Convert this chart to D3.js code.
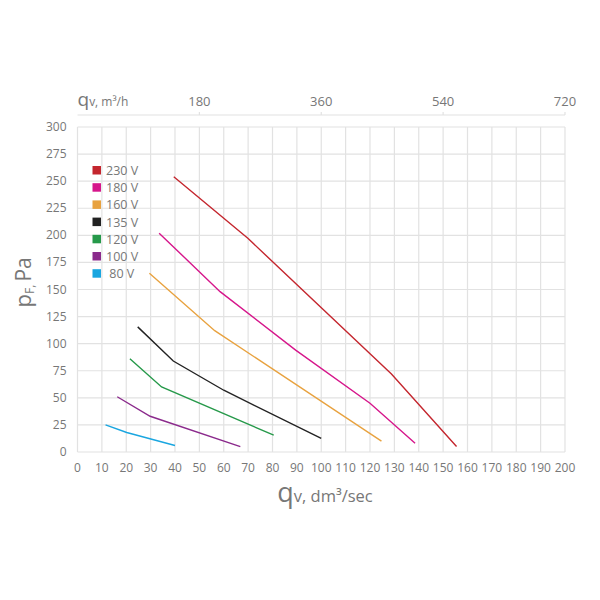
<!DOCTYPE html>
<html>
<head>
<meta charset="utf-8">
<script src="https://cdn.jsdelivr.net/npm/d3@7"></script>
<style>
body { margin: 0; background: #fff; }
text { font-family: "Open Sans", sans-serif; fill: #777; }
</style>
</head>
<body>
<div id="chart-area"></div>
<script>
// voltage series, flow in dm3/sec and pressure in Pa
var voltages = ["230 V", "180 V", "160 V", "135 V", "120 V", "100 V", " 80 V"];
var colors = ["#c4262e", "#d6168b", "#e8a23f", "#222222", "#26994a", "#8b2a8c", "#1aa6e0"];

var q230 = [39.5, 70, 128.8, 155.5];
var p230 = [254, 197, 72, 5];
var q180 = [33.5, 58.5, 89.5, 120, 138.5];
var p180 = [202, 148, 94, 45, 8];
var q160 = [29.5, 56.3, 124.7];
var p160 = [165, 112, 10];
var q135 = [24.7, 39.3, 60, 100];
var p135 = [115.5, 84, 57, 12.5];
var q120 = [21.5, 34.5, 80.5];
var p120 = [86, 60, 15.5];
var q100 = [16.3, 29.8, 66.8];
var p100 = [51, 33, 5];
var q80 = [11.5, 20.2, 40];
var p80 = [25, 18, 6];

var xTicks = d3.range(0, 201, 10);
var yTicks = d3.range(0, 301, 25);
var topTicks = [180, 360, 540, 720];

var series = [
	{q: q230, p: p230}, {q: q180, p: p180}, {q: q160, p: p160},
	{q: q135, p: p135}, {q: q120, p: p120}, {q: q100, p: p100}, {q: q80, p: p80}
];

var margin = {top: 127, left: 77.5, bottom: 148, right: 35};
var width = 600 - margin.left - margin.right;
var height = 600 - margin.top - margin.bottom;

var svg = d3.select("#chart-area").append("svg")
	.attr("width", 600)
	.attr("height", 600);
var g = svg.append("g")
	.attr("transform", "translate(" + margin.left + "," + margin.top + ")");

var x = d3.scaleLinear().domain([0, 200]).range([0, width]);
var y = d3.scaleLinear().domain([0, 300]).range([height, 0]);
// m3/h = dm3/sec * 3.6
var xTop = d3.scaleLinear().domain([0, 720]).range([0, width]);

// grid
g.selectAll(".vgrid").data(xTicks).enter().append("line")
	.attr("x1", function(d){ return x(d); })
	.attr("x2", function(d){ return x(d); })
	.attr("y1", 0).attr("y2", height)
	.attr("stroke", "#e2e2e2").attr("stroke-width", 1.2);
g.selectAll(".hgrid").data(yTicks).enter().append("line")
	.attr("x1", 0).attr("x2", width)
	.attr("y1", function(d){ return y(d); })
	.attr("y2", function(d){ return y(d); })
	.attr("stroke", "#e2e2e2").attr("stroke-width", 1.2);

// tick labels
g.selectAll(".xlab").data(xTicks).enter().append("text")
	.attr("x", function(d){ return x(d); })
	.attr("y", height + 20)
	.attr("text-anchor", "middle")
	.attr("font-size", "12px")
	.text(function(d){ return d; });
g.selectAll(".ylab").data(yTicks).enter().append("text")
	.attr("x", -11)
	.attr("y", function(d){ return y(d) + 4; })
	.attr("text-anchor", "end")
	.attr("font-size", "12px")
	.text(function(d){ return d; });

// top axis
var topY = -12;
g.append("line")
	.attr("x1", 0).attr("x2", width)
	.attr("y1", topY).attr("y2", topY)
	.attr("stroke", "#e2e2e2").attr("stroke-width", 1.2);
g.selectAll(".ttick").data(topTicks).enter().append("line")
	.attr("x1", function(d){ return xTop(d); })
	.attr("x2", function(d){ return xTop(d); })
	.attr("y1", topY).attr("y2", topY - 3)
	.attr("stroke", "#e2e2e2").attr("stroke-width", 1.2);
g.selectAll(".tlab").data(topTicks).enter().append("text")
	.attr("x", function(d){ return xTop(d); })
	.attr("y", topY - 9)
	.attr("text-anchor", "middle")
	.attr("font-size", "13px")
	.text(function(d){ return d; });

var topLabel = g.append("text")
	.attr("x", 0)
	.attr("y", topY - 9);
topLabel.append("tspan").attr("font-size", "19px").text("q");
topLabel.append("tspan").attr("font-size", "12px").text("v, m³/h");

// bottom axis title
var xLabel = g.append("text")
	.attr("x", x(100) - 44)
	.attr("y", height + 50);
xLabel.append("tspan").attr("font-size", "27px").text("q");
xLabel.append("tspan").attr("font-size", "16.5px").text("v, dm³/sec");

// left axis title
var yLabel = g.append("text")
	.attr("transform", "translate(-47," + (height / 2 + 18) + ") rotate(-90)");
yLabel.append("tspan").attr("font-size", "22px").text("p");
yLabel.append("tspan").attr("font-size", "12px").attr("dy", 3).text("F, ");
yLabel.append("tspan").attr("font-size", "21px").attr("dy", -3).text("Pa");

// curves
var line = d3.line()
	.x(function(d){ return x(d[0]); })
	.y(function(d){ return y(d[1]); });

series.forEach(function(s, i){
	var pts = s.q.map(function(q, j){ return [q, s.p[j]]; });
	g.append("path")
		.datum(pts)
		.attr("fill", "none")
		.attr("stroke", colors[i])
		.attr("stroke-width", 1.4)
		.attr("d", line);
});

// legend
var legend = g.append("g")
	.attr("transform", "translate(15, 39)");
voltages.forEach(function(v, i){
	var row = legend.append("g")
		.attr("transform", "translate(0," + (i * 17.2) + ")");
	row.append("rect")
		.attr("width", 8.5).attr("height", 8.5)
		.attr("fill", colors[i]);
	row.append("text")
		.attr("x", 13.5)
		.attr("y", 9)
		.attr("font-size", "12.5px")
		.style("white-space", "pre")
		.text(v);
});
</script>
</body>
</html>
